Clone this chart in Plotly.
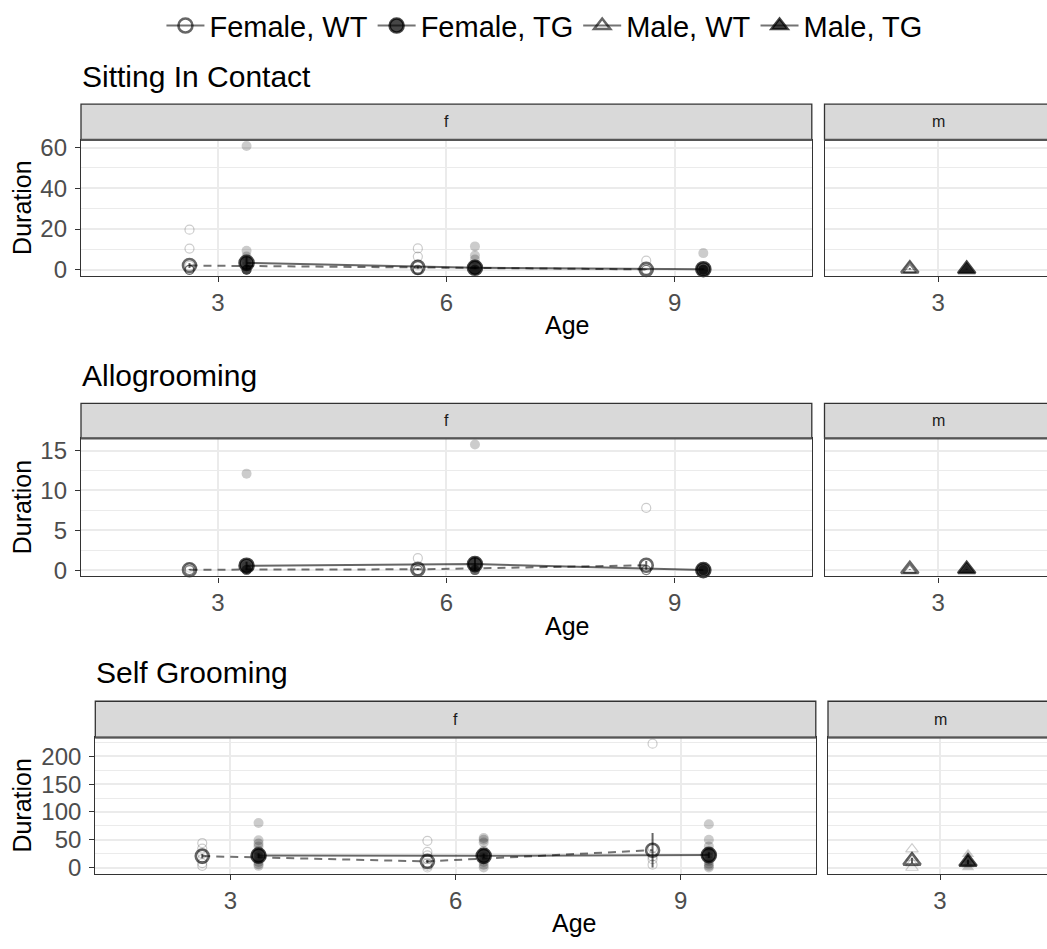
import plotly.graph_objects as go

# ---------------------------------------------------------------- data
AGES = [3, 6, 9]
MALE_AGES = [3]
DODGE = 0.375  # WT drawn left of the age, TG right of it

# Sitting In Contact: individual durations per age, then group means / SE
sic_f_wt_pts = [[19.7, 10.4, 2.0, 0, 0, 0, 0], [10.5, 6.5, 2.5, 0, 0, 0], [4.5, 0, 0, 0]]
sic_f_tg_pts = [[60.8, 9.3, 6.5, 4.5, 2.0, 0, 0, 0, 0, 0, 0],
                [11.5, 7.0, 5.0, 2.5, 0, 0, 0, 0], [8.2, 0, 0, 0, 0, 0, 0]]
sic_m_wt_pts = [[1.5, 0, 0, 0]]
sic_m_tg_pts = [[0.5, 0, 0, 0]]
sic_f_wt_mean = [2.1, 1.2, 0.2]
sic_f_wt_se = [1.2, 0.6, 0.2]
sic_f_tg_mean = [3.4, 1.0, 0.3]
sic_f_tg_se = [3.0, 0.6, 0.3]
sic_m_wt_mean = [0.5]
sic_m_wt_se = [0.4]
sic_m_tg_mean = [0.3]
sic_m_tg_se = [0.2]

# Allogrooming
allo_f_wt_pts = [[0.3, 0, 0, 0], [1.5, 0, 0, 0], [7.8, 0, 0, 0]]
allo_f_tg_pts = [[12.1, 0.5, 0, 0, 0, 0], [15.75, 1.0, 0, 0, 0, 0], [0, 0, 0, 0, 0]]
allo_m_wt_pts = [[0, 0, 0]]
allo_m_tg_pts = [[0, 0, 0]]
allo_f_wt_mean = [0.05, 0.1, 0.6]
allo_f_wt_se = [0.05, 0.1, 0.55]
allo_f_tg_mean = [0.55, 0.75, 0.0]
allo_f_tg_se = [0.5, 0.8, 0.0]
allo_m_wt_mean = [0.1]
allo_m_wt_se = [0.05]
allo_m_tg_mean = [0.1]
allo_m_tg_se = [0.05]

# Self Grooming
self_f_wt_pts = [[44, 34, 25, 15, 8, 3], [48, 28, 22, 15, 8, 3, 0], [223, 35, 20, 15, 5]]
self_f_tg_pts = [[80, 49, 43, 38, 30, 25, 20, 15, 10, 6, 3],
                 [53, 50, 45, 30, 25, 20, 15, 10, 5, 0],
                 [78, 50, 38, 30, 25, 18, 12, 7, 3, 0]]
self_m_wt_pts = [[33, 18, 8, 0]]
self_m_tg_pts = [[24, 14, 5, 0]]
self_f_wt_mean = [20.5, 11.0, 31.2]
self_f_wt_se = [4.0, 3.0, 31.0]
self_f_tg_mean = [21.5, 21.0, 22.3]
self_f_tg_se = [4.0, 4.0, 5.0]
self_m_wt_mean = [12.0]
self_m_wt_se = [5.0]
self_m_tg_mean = [10.0]
self_m_tg_se = [4.0]

BEHAVIOURS = [
    dict(title="Sitting In Contact",
         f_wt=(sic_f_wt_pts, sic_f_wt_mean, sic_f_wt_se),
         f_tg=(sic_f_tg_pts, sic_f_tg_mean, sic_f_tg_se),
         m_wt=(sic_m_wt_pts, sic_m_wt_mean, sic_m_wt_se),
         m_tg=(sic_m_tg_pts, sic_m_tg_mean, sic_m_tg_se),
         dtick=20),
    dict(title="Allogrooming",
         f_wt=(allo_f_wt_pts, allo_f_wt_mean, allo_f_wt_se),
         f_tg=(allo_f_tg_pts, allo_f_tg_mean, allo_f_tg_se),
         m_wt=(allo_m_wt_pts, allo_m_wt_mean, allo_m_wt_se),
         m_tg=(allo_m_tg_pts, allo_m_tg_mean, allo_m_tg_se),
         dtick=5),
    dict(title="Self Grooming",
         f_wt=(self_f_wt_pts, self_f_wt_mean, self_f_wt_se),
         f_tg=(self_f_tg_pts, self_f_tg_mean, self_f_tg_se),
         m_wt=(self_m_wt_pts, self_m_wt_mean, self_m_wt_se),
         m_tg=(self_m_tg_pts, self_m_tg_mean, self_m_tg_se),
         dtick=50),
]

# ---------------------------------------------------------------- layout geometry (pixels)
W, H = 1047, 949
FONT = "Liberation Sans, Arial, Helvetica, sans-serif"
ROWS = [
    dict(f=(81, 811.8), m=(824.5, 1052), strip=(97.7, 133.9), panel=(133.9, 272.3), title_y=70),
    dict(f=(81, 811.8), m=(824.5, 1052), strip=(401.7, 437.2), panel=(437.2, 577.5), title_y=373),
    dict(f=(95.3, 815.8), m=(828, 1052), strip=(704.4, 741.2), panel=(741.2, 879.6), title_y=675),
]
F_RANGE = [1.2, 10.8]
M_RANGE = [1.5, 4.5]


def fx(px):
    return px / W


def fy(py):
    return 1 - py / H


BORDER = "#333333"
GRID = "#EBEBEB"
TICKTXT = "#4D4D4D"

pt_col = "rgba(0,0,0,0.2)"
wt_mean_col = "rgba(0,0,0,0.6)"
tg_mean_col = "rgba(0,0,0,0.72)"
wt_line_col = "rgba(0,0,0,0.55)"
tg_line_col = "rgba(0,0,0,0.6)"

fig = go.Figure()
layout = dict(shapes=[], annotations=[])


def axis_ids(i):
    n = "" if i == 0 else str(i + 1)
    return "x" + n, "y" + n, "xaxis" + n, "yaxis" + n


def add_points(xa, ya, ages, pts, shift, symbol, size, lw):
    xs, ys = [], []
    for age, vals in zip(ages, pts):
        for v in vals:
            xs.append(age + shift)
            ys.append(v)
    fig.add_trace(go.Scatter(
        x=xs, y=ys, xaxis=xa, yaxis=ya, mode="markers", showlegend=False,
        hoverinfo="skip", cliponaxis=False,
        marker=dict(symbol=symbol, size=size, color=pt_col, line=dict(width=lw, color=pt_col))))


def add_means(xa, ya, ages, mean, se, shift, symbol, size, col, line):
    fig.add_trace(go.Scatter(
        x=[a + shift for a in ages], y=mean, xaxis=xa, yaxis=ya,
        mode="lines+markers" if line else "markers", showlegend=False, cliponaxis=False,
        line=line if line else None,
        error_y=dict(type="data", array=se, width=0, thickness=2, color=col),
        marker=dict(symbol=symbol, size=size, color=col, line=dict(width=2.6, color=col))))


for r, (beh, geo) in enumerate(zip(BEHAVIOURS, ROWS)):
    fi, mi = 2 * r, 2 * r + 1
    fxa, fya, fxk, fyk = axis_ids(fi)
    mxa, mya, mxk, myk = axis_ids(mi)

    # y range from the data with 5% padding on both sides
    allv = [v for key in ("f_wt", "f_tg", "m_wt", "m_tg") for grp in beh[key][0] for v in grp]
    lo, hi = min(allv), max(allv)
    pad = 0.05 * (hi - lo)
    yrange = [lo - pad, hi + pad]

    py0, py1 = geo["panel"]
    ydom = [fy(py1), fy(py0)]

    # female panel
    add_points(fxa, fya, AGES, beh["f_wt"][0], -DODGE, "circle-open", 9, 1.2)
    add_points(fxa, fya, AGES, beh["f_tg"][0], DODGE, "circle", 10, 0)
    add_means(fxa, fya, AGES, beh["f_wt"][1], beh["f_wt"][2], -DODGE, "circle-open", 13,
              wt_mean_col, dict(color=wt_line_col, width=2, dash="8px,6px"))
    add_means(fxa, fya, AGES, beh["f_tg"][1], beh["f_tg"][2], DODGE, "circle", 14,
              tg_mean_col, dict(color=tg_line_col, width=2))

    # male panel
    add_points(mxa, mya, MALE_AGES, beh["m_wt"][0], -DODGE, "triangle-up-open", 11, 1.2)
    add_points(mxa, mya, MALE_AGES, beh["m_tg"][0], DODGE, "triangle-up", 11, 0)
    add_means(mxa, mya, MALE_AGES, beh["m_wt"][1], beh["m_wt"][2], -DODGE, "triangle-up-open", 15,
              wt_mean_col, None)
    add_means(mxa, mya, MALE_AGES, beh["m_tg"][1], beh["m_tg"][2], DODGE, "triangle-up", 15,
              tg_mean_col, None)

    common_x = dict(showline=True, linecolor=BORDER, linewidth=1.3, mirror=True,
                    ticks="outside", ticklen=5, tickwidth=1.3, tickcolor=BORDER,
                    showgrid=True, gridcolor=GRID, gridwidth=1.6, zeroline=False,
                    tickfont=dict(size=24, color=TICKTXT, family=FONT), fixedrange=True)
    common_y = dict(range=yrange, domain=ydom, showline=True, linecolor=BORDER, linewidth=1.3,
                    showgrid=True, gridcolor=GRID, gridwidth=1.6, zeroline=False,
                    tick0=0, dtick=beh["dtick"],
                    minor=dict(dtick=beh["dtick"] / 2, showgrid=True, gridcolor=GRID, gridwidth=0.8),
                    fixedrange=True)

    fl, fr = geo["f"]
    layout[fxk] = dict(common_x, domain=[fx(fl), fx(fr)], range=F_RANGE, tickvals=AGES,
                       anchor=fya)
    layout[fyk] = dict(common_y, anchor=fxa, mirror=True, ticks="outside", ticklen=5,
                       tickwidth=1.3, tickcolor=BORDER, ticklabelstandoff=3,
                       tickfont=dict(size=24, color=TICKTXT, family=FONT))

    # male panel runs past the right edge of the page
    ml, mr = geo["m"]
    vis_end = M_RANGE[0] + (M_RANGE[1] - M_RANGE[0]) * (W - ml) / (mr - ml)
    layout[mxk] = dict(common_x, domain=[fx(ml), 1.0], range=[M_RANGE[0], vis_end],
                       tickvals=MALE_AGES, anchor=mya)
    layout[myk] = dict(common_y, anchor=mxa, mirror=False, showticklabels=False, ticks="")

    # facet strips
    sy0, sy1 = geo["strip"]
    for (l, rr), lab in (((fl, fr), "f"), ((ml, mr), "m")):
        layout["shapes"].append(dict(type="rect", xref="paper", yref="paper",
                                     x0=fx(l), x1=fx(rr), y0=fy(sy1), y1=fy(sy0),
                                     fillcolor="#D9D9D9", line=dict(color=BORDER, width=1.3)))
        layout["annotations"].append(dict(text=lab, xref="paper", yref="paper",
                                          x=fx((l + rr) / 2), y=fy((sy0 + sy1) / 2),
                                          xanchor="center", yanchor="middle", showarrow=False,
                                          font=dict(size=16, color="#1A1A1A", family=FONT)))
    # thicker rule between strip and panel
    for l, rr in ((fl, fr), (ml, mr)):
        layout["shapes"].append(dict(type="line", xref="paper", yref="paper",
                                     x0=fx(l), x1=fx(rr), y0=fy(sy1), y1=fy(sy1),
                                     line=dict(color="#555555", width=2.2)))

    # row title, axis titles
    layout["annotations"].append(dict(text=beh["title"], xref="paper", yref="paper",
                                      x=fx(fl - 1), y=fy(geo["title_y"]), xanchor="left",
                                      yanchor="middle", showarrow=False,
                                      font=dict(size=30, color="black", family=FONT)))
    layout["annotations"].append(dict(text="Duration", xref="paper", yref="paper",
                                      x=fx(22), y=fy((py0 + py1) / 2), textangle=-90,
                                      xanchor="center", yanchor="middle", showarrow=False,
                                      font=dict(size=25, color="black", family=FONT)))
    layout["annotations"].append(dict(text="Age", xref="paper", yref="paper",
                                      x=fx((fl + mr) / 2), y=fy(py1 + 50),
                                      xanchor="center", yanchor="middle", showarrow=False,
                                      font=dict(size=25, color="black", family=FONT)))

# legend entries
LEGEND = [("Female, WT", "circle-open", wt_mean_col),
          ("Female, TG", "circle", tg_mean_col),
          ("Male, WT", "triangle-up-open", wt_mean_col),
          ("Male, TG", "triangle-up", tg_mean_col)]
for name, sym, col in LEGEND:
    fig.add_trace(go.Scatter(x=[None], y=[None], name=name, mode="lines+markers",
                             line=dict(color=wt_line_col, width=2),
                             marker=dict(symbol=sym, size=14, color=col,
                                         line=dict(width=2.6, color=col))))

fig.update_layout(
    width=W, height=H, autosize=False,
    margin=dict(l=0, r=0, t=0, b=0),
    paper_bgcolor="white", plot_bgcolor="white",
    font=dict(family=FONT, color="black"),
    showlegend=True,
    legend=dict(orientation="h", x=0.52, xanchor="center", y=fy(18), yanchor="middle",
                font=dict(size=29, color="black", family=FONT), bgcolor="rgba(0,0,0,0)",
                itemwidth=38, tracegroupgap=0, traceorder="normal"),
    **layout,
)

fig.write_html("out.html")
